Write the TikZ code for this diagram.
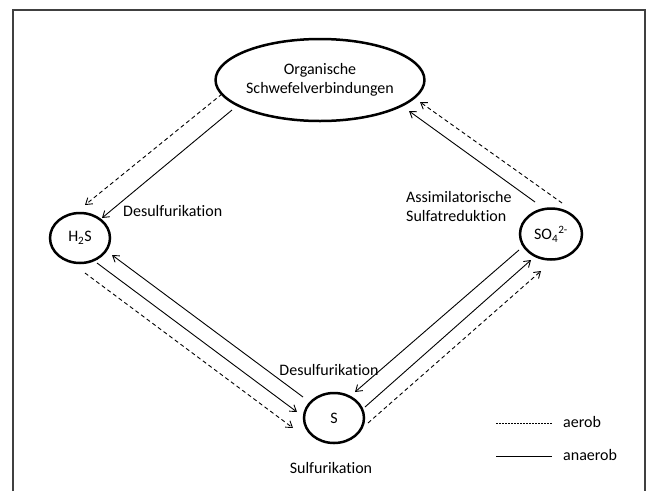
\documentclass[tikz,border=0pt]{standalone}
\usepackage{fontspec}
\setmainfont{Carlito}[Ligatures=NoCommon]
\usetikzlibrary{arrows.meta,calc,shapes.geometric}
\begin{document}
\begin{tikzpicture}[x=1pt,y=-1pt,
  every node/.style={font=\fontsize{16}{19}\selectfont},
  species/.style={ellipse,draw,line width=2.5pt,inner sep=0pt},
  lbl/.style={inner sep=0pt,align=left},
  ana/.style={line width=0.9pt,-{Straight Barb[length=6pt,width=8pt]}},
  aer/.style={line width=0.9pt,dash pattern=on 4pt off 3pt,-{Straight Barb[length=6pt,width=8pt]}},
  frame/.style={line width=1.5pt,draw=black!75}]
\useasboundingbox (0,0) rectangle (650,491);
\draw[frame] (13,491) -- (13,10) -- (645,10) -- (645,491);
% nodes
\node[species,minimum width=197pt,minimum height=82pt,align=center] (org) at (320,80) {Organische\\Schwefelverbindungen};
\node[species,minimum width=60pt,minimum height=50pt] (h2s) at (80,238) {H\textsubscript{2}S};
\node[species,minimum width=62pt,minimum height=51pt] (so4) at (551,234) {SO\textsubscript{4}\textsuperscript{2-}};
\node[species,minimum width=60pt,minimum height=50pt] (s) at (334,418) {S};
% labels
\node[lbl,anchor=west] (l1) at (123,211) {Desulfurikation};
\node[lbl,anchor=west] (l2) at (406,206.5) {Assimilatorische\\Sulfatreduktion};
\node[lbl] (l3) at (329,370) {Desulfurikation};
\node[lbl] (l4) at (331,468) {Sulfurikation};
% org -> h2s
\draw[aer] ($(org)+(-98,14)$) -- ($(h2s)+(5,-33)$);
\draw[ana] ($(org)+(-88,30)$) -- ($(h2s)+(22,-20)$);
% so4 -> org
\draw[ana] ($(so4)+(-16,-32)$) -- ($(org)+(89,31)$);
\draw[aer] ($(so4)+(11,-31)$) -- ($(org)+(100,22)$);
% h2s <-> s
\draw[ana] ($(h2s)+(17,25)$) -- ($(s)+(-37,-6)$);
\draw[ana] ($(s)+(-31,-21)$) -- ($(h2s)+(32,17)$);
\draw[aer] ($(h2s)+(5,35)$) -- ($(s)+(-41,10)$);
% s <-> so4
\draw[ana] ($(so4)+(-32,16)$) -- ($(s)+(21,-26)$);
\draw[ana] ($(s)+(31,-11)$) -- ($(so4)+(-20,26)$);
\draw[aer] ($(s)+(34,5)$) -- ($(so4)+(-10,37)$);
% legend
\coordinate (a1) at (496,423);
\coordinate (a2) at (552,423);
\coordinate (b1) at (496,456);
\coordinate (b2) at (552,456);
\draw[line width=0.6pt,dash pattern=on 2pt off 1pt] (a1) -- (a2);
\draw[line width=0.8pt] (b1) -- (b2);
\node[lbl,anchor=west] (la) at (563,422) {aerob};
\node[lbl,anchor=west] (lb) at (563,455) {anaerob};
\end{tikzpicture}
\end{document}
